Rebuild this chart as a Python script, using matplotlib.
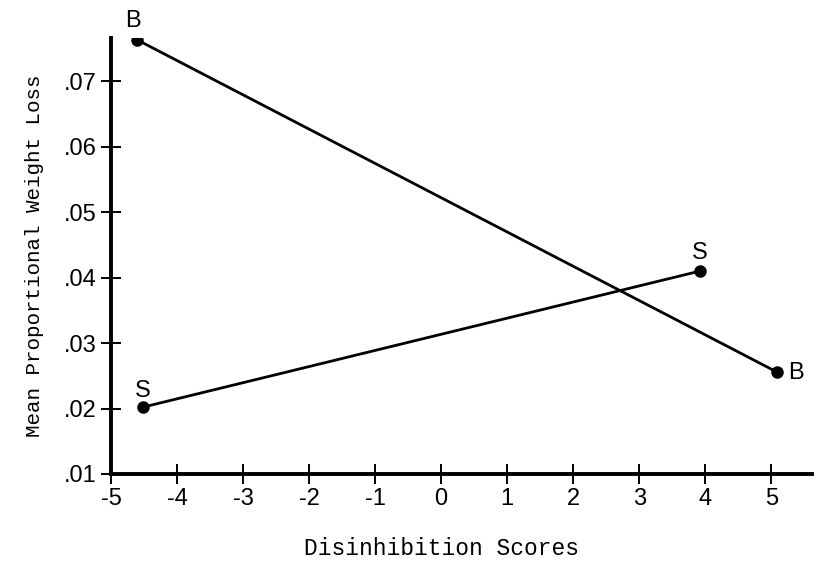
import matplotlib
matplotlib.use("Agg")
import matplotlib.pyplot as plt
from matplotlib.ticker import FuncFormatter

# data
b_x = [-4.6, 5.08]
b_y = [0.0763, 0.0256]
s_x = [-4.52, 3.92]
s_y = [0.0202, 0.0410]
x_ticks = [-5, -4, -3, -2, -1, 0, 1, 2, 3, 4, 5]
y_ticks = [0.01, 0.02, 0.03, 0.04, 0.05, 0.06, 0.07]

fig = plt.figure(figsize=(8.24, 5.64), dpi=100)
ax = fig.add_axes([0.1347, 0.1596, 0.851, 0.773])

ax.plot(b_x, b_y, color="black", lw=2.0, marker="o", ms=8)
ax.plot(s_x, s_y, color="black", lw=2.0, marker="o", ms=8)

# point labels
lab = dict(fontsize=17, family="Liberation Sans")
ax.annotate("B", (b_x[0], b_y[0]), xytext=(-3, 6), textcoords="offset points",
            ha="center", va="bottom", **lab)
ax.annotate("B", (b_x[1], b_y[1]), xytext=(8, -1), textcoords="offset points",
            ha="left", va="center", **lab)
ax.annotate("S", (s_x[0], s_y[0]), xytext=(0, 4), textcoords="offset points",
            ha="center", va="bottom", **lab)
ax.annotate("S", (s_x[1], s_y[1]), xytext=(0, 5), textcoords="offset points",
            ha="center", va="bottom", **lab)

ax.set_xlim(-5, 5.62)
ax.set_ylim(0.01, 0.0766)
ax.set_xticks(x_ticks)
ax.set_yticks(y_ticks)
ax.xaxis.set_major_formatter(FuncFormatter(lambda v, p: "%d" % v))
ax.yaxis.set_major_formatter(FuncFormatter(lambda v, p: ("%.2f" % v)[1:]))
for t in ax.get_xticklabels() + ax.get_yticklabels():
    t.set_family("Liberation Sans")

for side in ["top", "right"]:
    ax.spines[side].set_visible(False)
ax.spines["left"].set_linewidth(2.8)
ax.spines["bottom"].set_linewidth(2.8)
ax.tick_params(direction="inout", length=14, width=1.4, labelsize=17, pad=3)

ax.set_xlabel("Disinhibition Scores", family="Liberation Mono", fontsize=16.5)
ax.xaxis.set_label_coords((441 - 111) / 701, -0.145)
ax.set_ylabel("Mean Proportional Weight Loss", family="Liberation Mono", fontsize=15)
ax.yaxis.set_label_coords(-0.095, 0.5)

fig.savefig("out.png", dpi=100)
